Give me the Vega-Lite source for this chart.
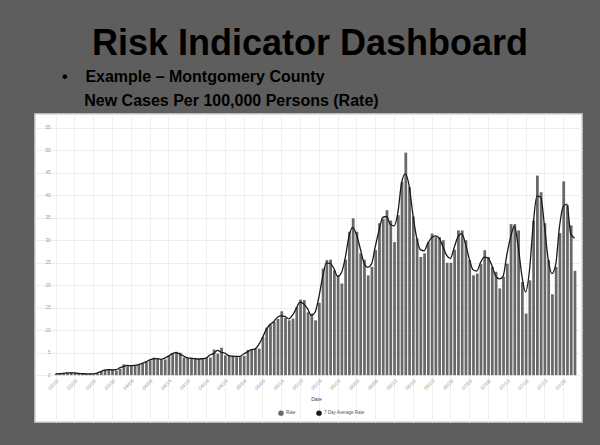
{
  "$schema": "https://vega.github.io/schema/vega-lite/v6.json",
  "width": 600,
  "height": 445,
  "autosize": {"type": "fit", "contains": "padding"},
  "padding": {"left": 35, "right": 18, "top": 26, "bottom": 23},
  "background": "#5e5e5e",
  "title": {
    "text": "\u200b\u00a0\u00a0\u00a0Risk Indicator Dashboard",
    "subtitle": ["•\u00a0\u00a0\u00a0\u00a0Example – Montgomery County", "\u200b\u00a0\u00a0\u00a0\u00a0\u00a0New Cases Per 100,000 Persons (Rate)"],
    "anchor": "start",
    "frame": "group",
    "dx": 27,
    "font": "Liberation Sans",
    "fontSize": 36,
    "fontWeight": "bold",
    "color": "#000000",
    "subtitleFont": "Liberation Sans",
    "subtitleFontSize": 16,
    "subtitleFontWeight": "bold",
    "subtitleColor": "#000000",
    "subtitleLineHeight": 24,
    "subtitlePadding": 6,
    "offset": 4
  },
  "config": {
    "font": "Liberation Sans",
    "view": {"fill": "#ffffff", "stroke": "#d6d6d6", "strokeWidth": 1.5},
    "axis": {"labelOverlap": false, "labelSeparation": 0, "labelFlush": false, "labelBound": false, "ticks": false, "domain": false, "labelColor": "#9a9a9a"},
    "axisX": {
      "labelAngle": -45, "labelFontSize": 5, "labelPadding": 3, "gridColor": "#f0f0f0",
      "titleFontSize": 5, "titleFontWeight": "normal", "titleColor": "#444444", "titlePadding": 6
    },
    "axisY": {"labelFontSize": 4.5, "labelPadding": 4, "gridColor": "#eeeeee"}
  },
  "data": {"values": [
    {"date":"2020-03-15","rate":0.3,"avg":0.3},
    {"date":"2020-03-16","rate":0.3,"avg":0.33},
    {"date":"2020-03-17","rate":0.4,"avg":0.4},
    {"date":"2020-03-18","rate":0.5,"avg":0.5},
    {"date":"2020-03-19","rate":0.6,"avg":0.53},
    {"date":"2020-03-20","rate":0.5,"avg":0.5},
    {"date":"2020-03-21","rate":0.4,"avg":0.4},
    {"date":"2020-03-22","rate":0.3,"avg":0.33},
    {"date":"2020-03-23","rate":0.3,"avg":0.3},
    {"date":"2020-03-24","rate":0.3,"avg":0.27},
    {"date":"2020-03-25","rate":0.2,"avg":0.3},
    {"date":"2020-03-26","rate":0.4,"avg":0.47},
    {"date":"2020-03-27","rate":0.8,"avg":0.8},
    {"date":"2020-03-28","rate":1.2,"avg":1.1},
    {"date":"2020-03-29","rate":1.3,"avg":1.23},
    {"date":"2020-03-30","rate":1.2,"avg":1.17},
    {"date":"2020-03-31","rate":1.0,"avg":1.2},
    {"date":"2020-04-01","rate":1.4,"avg":1.6},
    {"date":"2020-04-02","rate":2.4,"avg":1.93},
    {"date":"2020-04-03","rate":2.0,"avg":2.17},
    {"date":"2020-04-04","rate":2.1,"avg":2.1},
    {"date":"2020-04-05","rate":2.2,"avg":2.2},
    {"date":"2020-04-06","rate":2.3,"avg":2.37},
    {"date":"2020-04-07","rate":2.6,"avg":2.63},
    {"date":"2020-04-08","rate":3.0,"avg":2.97},
    {"date":"2020-04-09","rate":3.3,"avg":3.4},
    {"date":"2020-04-10","rate":3.9,"avg":3.6},
    {"date":"2020-04-11","rate":3.6,"avg":3.67},
    {"date":"2020-04-12","rate":3.5,"avg":3.53},
    {"date":"2020-04-13","rate":3.5,"avg":3.8},
    {"date":"2020-04-14","rate":4.4,"avg":4.23},
    {"date":"2020-04-15","rate":4.8,"avg":4.8},
    {"date":"2020-04-16","rate":5.2,"avg":5.0},
    {"date":"2020-04-17","rate":5.0,"avg":4.7},
    {"date":"2020-04-18","rate":3.9,"avg":4.27},
    {"date":"2020-04-19","rate":3.9,"avg":3.87},
    {"date":"2020-04-20","rate":3.8,"avg":3.77},
    {"date":"2020-04-21","rate":3.6,"avg":3.67},
    {"date":"2020-04-22","rate":3.6,"avg":3.6},
    {"date":"2020-04-23","rate":3.6,"avg":3.67},
    {"date":"2020-04-24","rate":3.8,"avg":3.77},
    {"date":"2020-04-25","rate":3.9,"avg":4.47},
    {"date":"2020-04-26","rate":5.7,"avg":4.8},
    {"date":"2020-04-27","rate":4.8,"avg":5.53},
    {"date":"2020-04-28","rate":6.1,"avg":5.1},
    {"date":"2020-04-29","rate":4.4,"avg":4.93},
    {"date":"2020-04-30","rate":4.3,"avg":4.33},
    {"date":"2020-05-01","rate":4.3,"avg":4.23},
    {"date":"2020-05-02","rate":4.1,"avg":4.2},
    {"date":"2020-05-03","rate":4.2,"avg":4.2},
    {"date":"2020-05-04","rate":4.3,"avg":4.7},
    {"date":"2020-05-05","rate":5.6,"avg":5.17},
    {"date":"2020-05-06","rate":5.6,"avg":5.7},
    {"date":"2020-05-07","rate":5.9,"avg":5.8},
    {"date":"2020-05-08","rate":5.9,"avg":6.77},
    {"date":"2020-05-09","rate":8.5,"avg":8.33},
    {"date":"2020-05-10","rate":10.6,"avg":10.13},
    {"date":"2020-05-11","rate":11.3,"avg":11.27},
    {"date":"2020-05-12","rate":11.9,"avg":11.9},
    {"date":"2020-05-13","rate":12.5,"avg":12.87},
    {"date":"2020-05-14","rate":14.2,"avg":13.17},
    {"date":"2020-05-15","rate":12.8,"avg":13.07},
    {"date":"2020-05-16","rate":12.2,"avg":12.53},
    {"date":"2020-05-17","rate":12.6,"avg":13.33},
    {"date":"2020-05-18","rate":15.2,"avg":14.87},
    {"date":"2020-05-19","rate":16.8,"avg":16.23},
    {"date":"2020-05-20","rate":16.7,"avg":15.83},
    {"date":"2020-05-21","rate":14.0,"avg":14.8},
    {"date":"2020-05-22","rate":13.7,"avg":13.3},
    {"date":"2020-05-23","rate":12.2,"avg":14.0},
    {"date":"2020-05-24","rate":16.1,"avg":17.33},
    {"date":"2020-05-25","rate":23.7,"avg":21.8},
    {"date":"2020-05-26","rate":25.6,"avg":25.0},
    {"date":"2020-05-27","rate":25.7,"avg":24.87},
    {"date":"2020-05-28","rate":23.3,"avg":23.73},
    {"date":"2020-05-29","rate":22.2,"avg":21.97},
    {"date":"2020-05-30","rate":20.4,"avg":22.77},
    {"date":"2020-05-31","rate":25.7,"avg":26.0},
    {"date":"2020-06-01","rate":31.9,"avg":30.83},
    {"date":"2020-06-02","rate":34.9,"avg":32.9},
    {"date":"2020-06-03","rate":31.9,"avg":31.3},
    {"date":"2020-06-04","rate":27.1,"avg":28.23},
    {"date":"2020-06-05","rate":25.7,"avg":25.0},
    {"date":"2020-06-06","rate":22.2,"avg":24.0},
    {"date":"2020-06-07","rate":24.1,"avg":24.7},
    {"date":"2020-06-08","rate":27.8,"avg":28.57},
    {"date":"2020-06-09","rate":33.8,"avg":32.13},
    {"date":"2020-06-10","rate":34.8,"avg":35.1},
    {"date":"2020-06-11","rate":36.7,"avg":35.3},
    {"date":"2020-06-12","rate":34.4,"avg":33.57},
    {"date":"2020-06-13","rate":29.6,"avg":33.2},
    {"date":"2020-06-14","rate":35.6,"avg":36.07},
    {"date":"2020-06-15","rate":43.0,"avg":42.7},
    {"date":"2020-06-16","rate":49.5,"avg":44.77},
    {"date":"2020-06-17","rate":41.8,"avg":42.2},
    {"date":"2020-06-18","rate":35.3,"avg":35.83},
    {"date":"2020-06-19","rate":30.4,"avg":30.67},
    {"date":"2020-06-20","rate":26.3,"avg":27.93},
    {"date":"2020-06-21","rate":27.1,"avg":27.67},
    {"date":"2020-06-22","rate":29.6,"avg":29.4},
    {"date":"2020-06-23","rate":31.5,"avg":30.6},
    {"date":"2020-06-24","rate":30.7,"avg":30.97},
    {"date":"2020-06-25","rate":30.7,"avg":30.47},
    {"date":"2020-06-26","rate":30.0,"avg":28.57},
    {"date":"2020-06-27","rate":25.0,"avg":26.67},
    {"date":"2020-06-28","rate":25.0,"avg":25.97},
    {"date":"2020-06-29","rate":27.9,"avg":28.37},
    {"date":"2020-06-30","rate":32.2,"avg":30.77},
    {"date":"2020-07-01","rate":32.2,"avg":31.47},
    {"date":"2020-07-02","rate":30.0,"avg":29.27},
    {"date":"2020-07-03","rate":25.6,"avg":25.93},
    {"date":"2020-07-04","rate":22.2,"avg":23.47},
    {"date":"2020-07-05","rate":22.6,"avg":23.17},
    {"date":"2020-07-06","rate":24.7,"avg":25.03},
    {"date":"2020-07-07","rate":27.8,"avg":26.27},
    {"date":"2020-07-08","rate":26.3,"avg":26.07},
    {"date":"2020-07-09","rate":24.1,"avg":24.47},
    {"date":"2020-07-10","rate":23.0,"avg":22.13},
    {"date":"2020-07-11","rate":19.3,"avg":21.4},
    {"date":"2020-07-12","rate":21.9,"avg":22.0},
    {"date":"2020-07-13","rate":24.8,"avg":26.77},
    {"date":"2020-07-14","rate":33.6,"avg":30.67},
    {"date":"2020-07-15","rate":33.6,"avg":33.13},
    {"date":"2020-07-16","rate":32.2,"avg":28.83},
    {"date":"2020-07-17","rate":20.7,"avg":22.2},
    {"date":"2020-07-18","rate":13.7,"avg":18.5},
    {"date":"2020-07-19","rate":21.1,"avg":23.07},
    {"date":"2020-07-20","rate":34.4,"avg":33.3},
    {"date":"2020-07-21","rate":44.4,"avg":39.83},
    {"date":"2020-07-22","rate":40.7,"avg":39.63},
    {"date":"2020-07-23","rate":33.8,"avg":33.37},
    {"date":"2020-07-24","rate":25.6,"avg":25.8},
    {"date":"2020-07-25","rate":18.0,"avg":22.57},
    {"date":"2020-07-26","rate":24.1,"avg":24.57},
    {"date":"2020-07-27","rate":31.6,"avg":32.93},
    {"date":"2020-07-28","rate":43.1,"avg":37.5},
    {"date":"2020-07-29","rate":37.8,"avg":38.07},
    {"date":"2020-07-30","rate":33.3,"avg":31.43},
    {"date":"2020-07-31","rate":23.2,"avg":30.5}
  ]},
  "layer": [
    {
      "mark": {"type": "bar", "timeUnitBandSize": 0.75},
      "encoding": {
        "x": {
          "field": "date", "type": "temporal", "timeUnit": "utcyearmonthdate",
          "scale": {"domain": [1583798400000, 1596369600000]},
          "axis": {
            "values": [1584273600000,1584705600000,1585137600000,1585569600000,1586001600000,1586433600000,1586865600000,1587297600000,1587729600000,1588161600000,1588593600000,1589025600000,1589457600000,1589889600000,1590321600000,1590753600000,1591185600000,1591617600000,1592049600000,1592481600000,1592913600000,1593345600000,1593777600000,1594209600000,1594641600000,1595073600000,1595505600000,1595937600000],
            "format": "%m/%d",
            "labelOverlap": false,
            "grid": true,
            "offset": -47,
            "title": "Date",
            "titleX": 281
          }
        },
        "y": {
          "field": "rate", "type": "quantitative",
          "scale": {"domain": [-10.42, 58.1], "nice": false, "zero": false},
          "axis": {
            "values": [0,5,10,15,20,25,30,35,40,45,50,55],
            "labelOverlap": false,
            "offset": -19,
            "grid": true,
            "title": null
          }
        },
        "color": {
          "datum": "Rate",
          "scale": {"domain": ["Rate", "7 Day Average Rate"], "range": ["#686868", "#1a1a1a"]},
          "legend": {
            "title": null,
            "orient": "none",
            "legendX": 243,
            "legendY": 296,
            "direction": "horizontal",
            "symbolType": "circle",
            "symbolSize": 30,
            "symbolStrokeWidth": 0,
            "labelFontSize": 4.5,
            "labelColor": "#555555",
            "labelOffset": 2,
            "columnPadding": 20,
            "encode": {"symbols": {"update": {"fill": {"scale": "color", "field": "value"}, "fillOpacity": {"value": 1}}}}
          }
        }
      }
    },
    {
      "mark": {"type": "line", "interpolate": "monotone", "strokeWidth": 1.3},
      "encoding": {
        "x": {
          "field": "date", "type": "temporal", "timeUnit": "utcyearmonthdate", "bandPosition": 0.5,
          "axis": {
            "values": [1584273600000,1584705600000,1585137600000,1585569600000,1586001600000,1586433600000,1586865600000,1587297600000,1587729600000,1588161600000,1588593600000,1589025600000,1589457600000,1589889600000,1590321600000,1590753600000,1591185600000,1591617600000,1592049600000,1592481600000,1592913600000,1593345600000,1593777600000,1594209600000,1594641600000,1595073600000,1595505600000,1595937600000],
            "format": "%m/%d",
            "labelOverlap": false,
            "grid": true,
            "offset": -47,
            "title": "Date",
            "titleX": 281
          }
        },
        "y": {
          "field": "avg", "type": "quantitative",
          "axis": {
            "values": [0,5,10,15,20,25,30,35,40,45,50,55],
            "labelOverlap": false,
            "offset": -19,
            "grid": true,
            "title": null
          }
        },
        "color": {"datum": "7 Day Average Rate"}
      }
    }
  ]
}
